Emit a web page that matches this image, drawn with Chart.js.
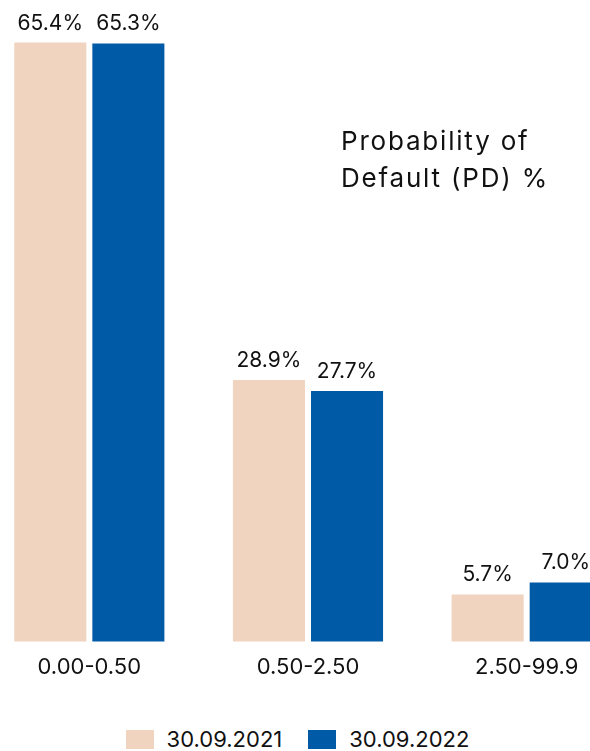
<!DOCTYPE html>
<html>
<head>
    <title>Probability of Default</title>
    <script src="https://cdn.jsdelivr.net/npm/chart.js@4.4.0/dist/chart.umd.min.js"></script>
    <style>
        html, body { margin: 0; padding: 0; background: #fff; }
        body { width: 590px; height: 751px; overflow: hidden; position: relative; font-family: Inter, sans-serif; color: #111; }
        #wrap { position: absolute; left: -20px; top: 0; width: 656px; height: 686px; }
        #title { position: absolute; left: 341px; top: 122px; font-size: 26px; letter-spacing: 1.8px; line-height: 37px; color: #111; }
        #legend { position: absolute; left: 0; width: 595px; top: 728px; display: flex; justify-content: center; font-size: 22px; line-height: 22px; }
        .item { display: flex; align-items: center; margin: 0 13px; }
        .box { width: 28px; height: 19px; margin-right: 13px; }
    </style>
</head>
<body>
    <div id="wrap"><canvas id="chart"></canvas></div>
    <div id="title">Probability of<br>Default (PD) %</div>
    <div id="legend"></div>

    <script>
        const categories = ['0.00-0.50', '0.50-2.50', '2.50-99.9'];
        const seriesNames = ['30.09.2021', '30.09.2022'];
        const values2021 = [65.4, 28.9, 5.7];
        const values2022 = [65.3, 27.7, 7.0];
        const colors = ['#F0D4C0', '#005AA5'];

        // value labels above each bar
        const barLabels = {
            id: 'barLabels',
            afterDatasetsDraw(chart) {
                const ctx = chart.ctx;
                ctx.save();
                ctx.font = '21px Inter';
                ctx.fillStyle = '#111';
                ctx.textAlign = 'center';
                ctx.textBaseline = 'alphabetic';
                chart.data.datasets.forEach((ds, i) => {
                    chart.getDatasetMeta(i).data.forEach((bar, j) => {
                        ctx.fillText(ds.data[j].toFixed(1) + '%', bar.x, bar.y - 13);
                    });
                });
                ctx.restore();
            }
        };

        const ctx = document.getElementById('chart').getContext('2d');
        const chart = new Chart(ctx, {
            type: 'bar',
            data: {
                labels: categories,
                datasets: [
                    { label: seriesNames[0], data: values2021, backgroundColor: colors[0] },
                    { label: seriesNames[1], data: values2022, backgroundColor: colors[1] }
                ]
            },
            options: {
                responsive: true,
                maintainAspectRatio: false,
                animation: false,
                categoryPercentage: 0.714,
                barPercentage: 0.923,
                layout: { padding: 0 },
                plugins: {
                    legend: { display: false },
                    tooltip: { enabled: false }
                },
                scales: {
                    x: {
                        grid: { display: false },
                        border: { display: false },
                        ticks: { color: '#111', font: { family: 'Inter', size: 22 }, padding: 5 }
                    },
                    y: {
                        display: false,
                        min: 0.6,
                        max: 70
                    }
                }
            },
            plugins: [barLabels]
        });

        // legend built from the dataset names and colours
        const legendEl = document.getElementById('legend');
        seriesNames.forEach((name, i) => {
            const item = document.createElement('div');
            item.className = 'item';
            item.innerHTML = `<span class="box" style="background:${colors[i]}"></span><span>${name}</span>`;
            legendEl.appendChild(item);
        });
    </script>
</body>
</html>
